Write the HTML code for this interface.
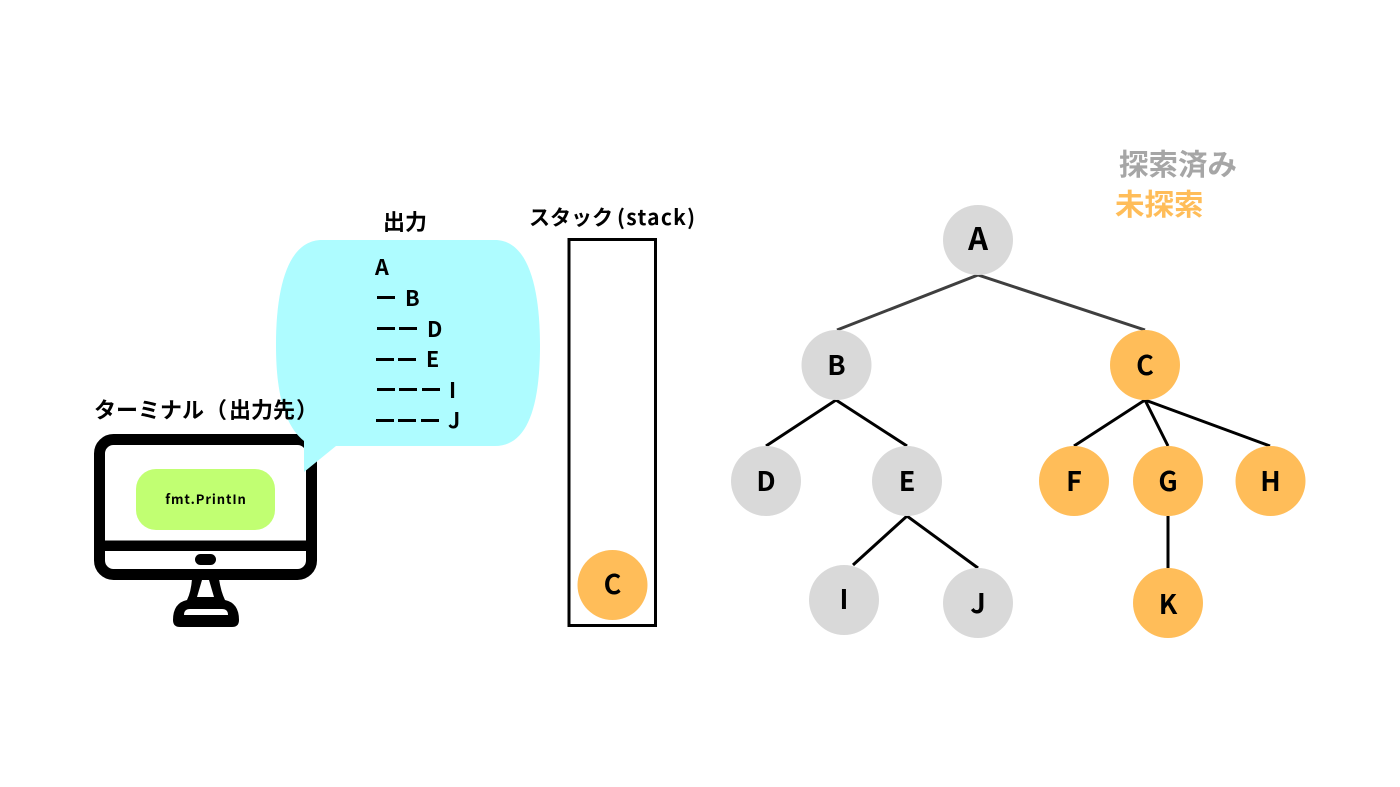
<!DOCTYPE html>
<html><head><meta charset="utf-8">
<style>
html,body{margin:0;padding:0;background:#fff;}
svg{display:block;}
text{font-family:"Noto Sans CJK JP","Liberation Sans",sans-serif;font-weight:700;fill:#000;}
.n{font-size:27px;text-anchor:middle;}
.o{font-size:21.500px;}
</style></head><body>
<svg width="1400" height="787" viewBox="0 0 1400 787" xmlns="http://www.w3.org/2000/svg">
<rect width="1400" height="787" fill="#fff"/>
<!-- monitor -->
<rect x="99.500" y="439.500" width="212" height="135" rx="14" fill="#fff" stroke="#000" stroke-width="11"/>
<rect x="99" y="540.500" width="213" height="10.500" fill="#000"/>
<rect x="195" y="554" width="21" height="11" rx="5.500" fill="#000"/>
<path d="M192 579 Q191 592 187 600 Q173 603 173 620 Q173 627 180 627 L232 627 Q239 627 239 620 Q239 603 225 600 Q221 592 219 579 Z" fill="#000"/>
<path d="M202 580 L209 580 L214 597 L197 597 Z" fill="#fff"/>
<path d="M184 615 Q184 609 190 609 L222 609 Q228 609 228 615 Z" fill="#fff"/>
<rect x="136" y="469" width="139" height="61" rx="20" fill="#c1ff72"/>
<text x="206" y="504" font-size="13" letter-spacing=".9" text-anchor="middle">fmt.PrintIn</text>
<!-- bubble -->
<path d="M322 240 L495 240 C529 240 540 290 540 345 C540 408 527 446 495 446 L336 446 L304 472 L304 441 C284 425 276 392 276 345 C276 282 290 240 322 240 Z" fill="#aefcff"/>
<text x="94" y="418" font-size="22">ターミナル</text>
<text x="205" y="418" font-size="22">（</text>
<text x="229" y="418" font-size="22">出力先</text>
<text x="296" y="418" font-size="22">）</text>
<text x="383" y="230" font-size="22">出力</text>
<text class="o" x="375" y="275">A</text>
<text class="o" x="405" y="306">B</text>
<text class="o" x="427" y="337">D</text>
<text class="o" x="426" y="367">E</text>
<text class="o" x="449" y="398">I</text>
<text class="o" x="448" y="428">J</text>
<g fill="#000">
<rect x="377" y="296" width="18" height="3"/>
<rect x="377" y="327" width="18" height="3"/><rect x="399" y="327" width="18" height="3"/>
<rect x="376" y="358" width="18" height="3"/><rect x="398" y="358" width="18" height="3"/>
<rect x="377" y="388" width="18" height="3"/><rect x="399" y="388" width="18" height="3"/><rect x="422" y="388" width="18" height="3"/>
<rect x="376" y="419" width="18" height="3"/><rect x="398" y="419" width="18" height="3"/><rect x="421" y="419" width="18" height="3"/>
</g>
<!-- stack -->
<text x="529" y="225" font-size="21">スタック</text>
<text x="617" y="225" font-size="21" letter-spacing="1.300">(stack)</text>
<rect x="569" y="239.500" width="86.500" height="386" fill="none" stroke="#000" stroke-width="3"/>
<circle cx="612.500" cy="585" r="35" fill="#ffbd59"/>
<text class="n" x="612.500" y="594">C</text>
<!-- legend -->
<text x="1119" y="175" font-size="29.500" style="fill:#a6a6a6">探索済み</text>
<text x="1115" y="215" font-size="29.500" style="fill:#ffbd59">未探索</text>
<!-- edges -->
<g stroke="#3f3f3f" stroke-width="3" fill="none">
<path d="M837 330 L978 275 L1145 330"/>
</g>
<g stroke="#000" stroke-width="3" fill="none">
<path d="M766 446 L836 400 L907 446"/>
<path d="M1074 446 L1145 400 L1168 446"/>
<path d="M1145 400 L1270 446"/>
<path d="M853 565 L907 516 L978 568"/>
<path d="M1168 516 L1168 568"/>
</g>
<!-- nodes -->
<g fill="#d9d9d9">
<circle cx="978" cy="240" r="35"/>
<circle cx="836.500" cy="365" r="35"/>
<circle cx="766" cy="481" r="35"/>
<circle cx="907" cy="481" r="35"/>
<circle cx="844" cy="600" r="35"/>
<circle cx="978" cy="603" r="35"/>
</g>
<g fill="#ffbd59">
<circle cx="1145" cy="365" r="35"/>
<circle cx="1074" cy="481" r="35"/>
<circle cx="1168" cy="481" r="35"/>
<circle cx="1270.500" cy="481" r="35"/>
<circle cx="1168" cy="603" r="35"/>
</g>
<text class="n" x="978" y="250" style="font-size:31px">A</text>
<text class="n" x="836.500" y="375">B</text>
<text class="n" x="1145" y="375">C</text>
<text class="n" x="766" y="491">D</text>
<text class="n" x="907" y="491">E</text>
<text class="n" x="1074" y="491">F</text>
<text class="n" x="1168" y="491">G</text>
<text class="n" x="1270.500" y="491">H</text>
<text class="n" x="844" y="609">I</text>
<text class="n" x="978" y="613">J</text>
<text class="n" x="1168" y="614">K</text>
</svg>
</body></html>
